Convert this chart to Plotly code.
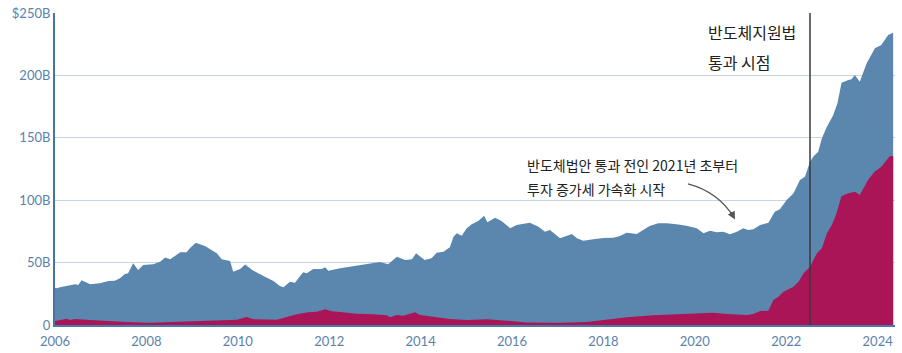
import plotly.graph_objects as go

# Total (blue) series: decimal year, value in $B
total_years = [2006.0, 2006.04, 2006.11, 2006.26, 2006.44, 2006.51, 2006.58, 2006.77, 2006.98, 2007.17, 2007.31,
               2007.42, 2007.53, 2007.60, 2007.71, 2007.82, 2007.93, 2008.15, 2008.30, 2008.41, 2008.52,
               2008.74, 2008.88, 2008.95, 2009.08, 2009.28, 2009.39, 2009.54, 2009.65, 2009.83, 2009.90,
               2010.05, 2010.16, 2010.34, 2010.56, 2010.78, 2010.92, 2011.00, 2011.14, 2011.25, 2011.43,
               2011.51, 2011.65, 2011.84, 2011.91, 2011.98, 2012.24, 2012.46, 2012.67, 2012.89, 2013.11,
               2013.29, 2013.48, 2013.66, 2013.81, 2013.90, 2014.09, 2014.24, 2014.35, 2014.50, 2014.64,
               2014.72, 2014.79, 2014.90, 2015.01, 2015.12, 2015.26, 2015.39, 2015.46, 2015.63, 2015.77,
               2015.96, 2016.10, 2016.39, 2016.58, 2016.72, 2016.83, 2017.05, 2017.16, 2017.31, 2017.42,
               2017.56, 2017.78, 2018.00, 2018.22, 2018.36, 2018.51, 2018.73, 2018.87, 2019.01, 2019.20,
               2019.38, 2019.60, 2019.82, 2020.04, 2020.19, 2020.33, 2020.48, 2020.62, 2020.77, 2020.92,
               2021.06, 2021.17, 2021.28, 2021.43, 2021.61, 2021.75, 2021.86, 2022.01, 2022.16, 2022.30,
               2022.41, 2022.52, 2022.59, 2022.70, 2022.78, 2022.89, 2023.03, 2023.12, 2023.21, 2023.36,
               2023.43, 2023.50, 2023.61, 2023.76, 2023.94, 2024.08, 2024.23, 2024.34]
total_values = [29.8, 29.4, 30.2, 31.5, 32.6, 32.0, 35.8, 32.6, 33.4, 35.2, 35.5,
                37.4, 40.9, 41.4, 49.4, 44.0, 48.0, 48.6, 50.7, 54.0, 52.6,
                58.2, 58.2, 61.4, 66.0, 63.3, 60.6, 57.4, 52.6, 51.3, 42.7,
                44.9, 48.5, 43.5, 39.3, 35.2, 31.2, 30.2, 34.7, 33.9, 42.2,
                41.4, 44.9, 44.9, 46.2, 43.5, 45.4, 46.7, 48.0, 49.4, 50.5,
                48.6, 54.7, 52.1, 52.6, 57.4, 52.0, 53.4, 57.9, 58.7, 62.2,
                70.8, 73.5, 71.6, 77.5, 80.7, 83.3, 87.6, 82.3, 86.0, 83.3,
                77.5, 80.1, 82.0, 78.8, 74.8, 76.1, 69.5, 70.8, 72.9, 69.5,
                67.5, 68.7, 69.8, 70.0, 71.3, 74.0, 72.9, 76.1, 79.3, 81.5,
                81.5, 80.7, 79.6, 77.5, 73.5, 75.6, 74.3, 74.8, 72.7, 74.8,
                77.5, 76.1, 76.7, 80.1, 82.0, 90.8, 92.7, 100.2, 105.5, 116.2,
                118.8, 130.8, 134.9, 138.9, 149.6, 158.9, 168.3, 177.6, 194.2, 196.3,
                196.9, 200.3, 195.0, 209.7, 221.7, 224.4, 232.4, 234.2]

# Accelerated-investment (red) series: decimal year, value in $B
sub_years = [2006.0, 2006.04, 2006.26, 2006.33, 2006.44, 2006.77, 2007.13, 2007.57, 2008.08, 2008.81, 2009.54,
             2009.98, 2010.19, 2010.34, 2010.85, 2011.07, 2011.29, 2011.54, 2011.73, 2011.91, 2012.05,
             2012.24, 2012.60, 2012.96, 2013.26, 2013.33, 2013.48, 2013.62, 2013.88, 2013.99, 2014.28,
             2014.64, 2015.01, 2015.45, 2015.88, 2016.32, 2017.05, 2017.63, 2018.14, 2018.51, 2019.09,
             2019.60, 2020.11, 2020.40, 2020.70, 2021.14, 2021.28, 2021.43, 2021.61, 2021.72, 2021.83,
             2021.94, 2022.16, 2022.27, 2022.38, 2022.52, 2022.67, 2022.78, 2022.89, 2023.00, 2023.10,
             2023.21, 2023.36, 2023.50, 2023.61, 2023.80, 2023.94, 2024.08, 2024.27, 2024.34]
sub_values = [3.3, 3.5, 5.1, 4.0, 4.8, 4.0, 3.2, 2.4, 1.9, 2.7, 4.0,
              4.3, 6.4, 4.6, 4.3, 6.7, 8.6, 10.2, 10.7, 12.6, 11.0,
              10.4, 9.1, 8.6, 7.8, 6.2, 8.0, 7.5, 10.2, 8.0, 6.7,
              4.8, 4.0, 4.6, 3.5, 2.1, 1.9, 2.4, 4.6, 6.2, 7.8,
              8.8, 9.4, 9.9, 8.8, 8.0, 8.8, 11.2, 11.5, 20.0, 22.7,
              26.7, 30.7, 34.7, 41.4, 46.7, 57.4, 61.4, 73.5, 80.1, 89.5,
              103.4, 105.5, 106.8, 104.2, 116.7, 122.9, 126.9, 135.4, 135.4]

x_tick_vals = [2006, 2008, 2010, 2012, 2014, 2016, 2018, 2020, 2022, 2024]
x_tick_text = ["2006", "2008", "2010", "2012", "2014", "2016", "2018", "2020", "2022", "2024"]
y_tick_vals = [0, 50, 100, 150, 200, 250]
y_tick_text = ["0", "50B", "100B", "150B", "200B", "$250B"]

chips_act_year = 2022.52

BLUE = "#5b86ad"
RED = "#aa1558"
TICK = "#5b82ab"

fig = go.Figure()
fig.add_trace(go.Scatter(x=total_years, y=total_values, mode="lines", fill="tozeroy",
                         line=dict(width=0, color=BLUE), fillcolor=BLUE, hoverinfo="skip",
                         showlegend=False))
fig.add_trace(go.Scatter(x=sub_years, y=sub_values, mode="lines", fill="tozeroy",
                         line=dict(width=0, color=RED), fillcolor=RED, hoverinfo="skip",
                         showlegend=False))

fig.update_layout(
    width=902, height=353,
    margin=dict(l=55, r=7, t=13, b=28),
    paper_bgcolor="white", plot_bgcolor="white",
    xaxis=dict(range=[2006, 2024.38], tickvals=x_tick_vals, ticktext=x_tick_text, automargin=False,
               showgrid=False, zeroline=False, showline=True, linecolor="#4a79a8", linewidth=2,
               ticks="", ticklabelstandoff=3, tickfont=dict(family="Lato", size=13, color=TICK)),
    yaxis=dict(range=[0, 250], tickvals=y_tick_vals, ticktext=y_tick_text, automargin=False,
               showgrid=True, gridcolor="#c4d5e7", gridwidth=1, zeroline=False,
               showline=True, linecolor="#4a74a0", linewidth=2, ticks="",
               tickfont=dict(family="Lato", size=13, color=TICK)),
    font=dict(family="Noto Sans CJK KR"),
)

# CHIPS Act vertical marker
fig.add_shape(type="line", xref="x", yref="y", x0=chips_act_year, x1=chips_act_year, y0=0, y1=250,
              line=dict(color="#3a3a3a", width=1.5), layer="above")

fig.add_annotation(text="반도체지원법", xref="paper", yref="paper", x=0.775, y=0.939,
                   xanchor="left", yanchor="middle", showarrow=False,
                   font=dict(family="Noto Sans CJK KR", size=16, color="#222222"))
fig.add_annotation(text="통과 시점", xref="paper", yref="paper", x=0.775, y=0.843,
                   xanchor="left", yanchor="middle", showarrow=False,
                   font=dict(family="Noto Sans CJK KR", size=16, color="#222222"))

fig.add_annotation(text="반도체법안 통과 전인 2021년 초부터", xref="paper", yref="paper", x=0.5595, y=0.513,
                   xanchor="left", yanchor="middle", showarrow=False,
                   font=dict(family="Noto Sans CJK KR", size=14, color="#222222"))
fig.add_annotation(text="투자 증가세 가속화 시작", xref="paper", yref="paper", x=0.5595, y=0.436,
                   xanchor="left", yanchor="middle", showarrow=False,
                   font=dict(family="Noto Sans CJK KR", size=14, color="#222222"))

# curved arrow
fig.add_shape(type="path", xref="x", yref="y",
              path="M 2019.85,113 Q 2020.51,106.6 2020.86,86",
              line=dict(color="#555555", width=1.3), layer="above")
fig.add_annotation(x=2020.88, y=84.5, xref="x", yref="y", ax=-5, ay=-9, text="",
                   showarrow=True, arrowhead=2, arrowsize=1.2, arrowwidth=1.3, arrowcolor="#555555")

fig.write_html("out.html")
